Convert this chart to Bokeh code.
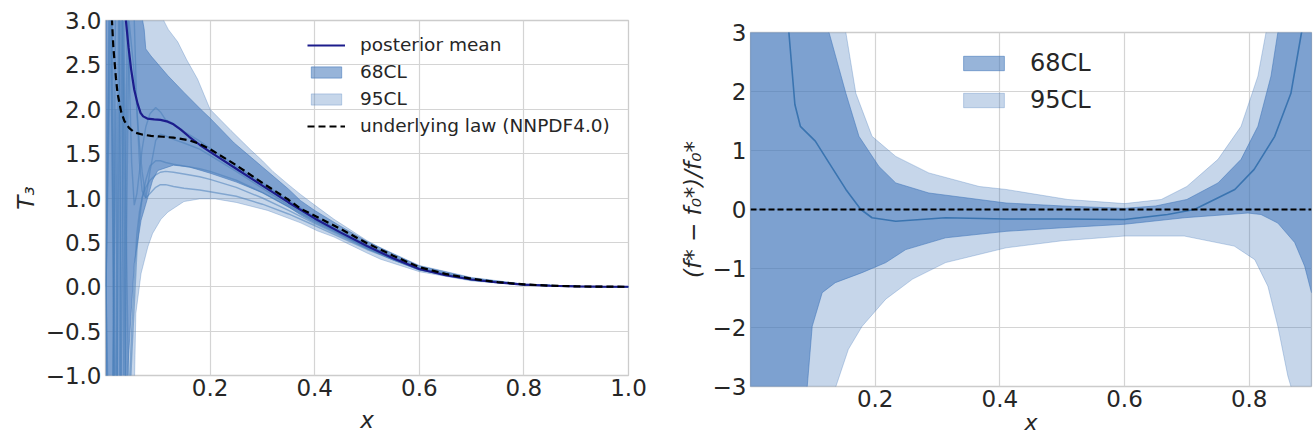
from bokeh.plotting import figure
from bokeh.layouts import row, column
from bokeh.models import Range1d, FixedTicker, Legend, LegendItem
from bokeh.embed import file_html
from bokeh.resources import INLINE

# ---------------- Left panel data: T3(x) ----------------
x_law = [0.005, 0.0124, 0.015, 0.02, 0.023, 0.03, 0.036, 0.045, 0.055, 0.07, 0.087, 0.11, 0.13,
         0.16, 0.18, 0.2, 0.25, 0.3, 0.35, 0.373, 0.4, 0.45, 0.5, 0.55, 0.6, 0.65, 0.7, 0.75,
         0.8, 0.85, 0.9, 0.95, 1.0]
law = [6.0, 3.0, 2.7, 2.35, 2.18, 1.97, 1.87, 1.79, 1.74, 1.715, 1.70, 1.69, 1.68,
       1.65, 1.61, 1.55, 1.37, 1.17, 0.98, 0.88, 0.80, 0.65, 0.49, 0.35, 0.22, 0.145, 0.09, 0.052,
       0.027, 0.012, 0.004, 0.001, 0.0]

x_mean = [0.035, 0.039, 0.044, 0.049, 0.055, 0.0615, 0.067, 0.072, 0.08, 0.093, 0.105, 0.119, 0.13,
          0.144, 0.16, 0.18, 0.2, 0.25, 0.3, 0.35, 0.4, 0.45, 0.5, 0.55, 0.6, 0.65, 0.7, 0.75,
          0.8, 0.85, 0.9, 0.95, 1.0]
post_mean = [3.6, 3.0, 2.7, 2.45, 2.22, 2.06, 1.96, 1.92, 1.895, 1.885, 1.88, 1.86, 1.83,
             1.77, 1.69, 1.60, 1.52, 1.33, 1.14, 0.95, 0.77, 0.61, 0.46, 0.32, 0.20, 0.13, 0.082, 0.048,
             0.025, 0.011, 0.004, 0.001, 0.0]

x_up95 = [0.001, 0.09, 0.106, 0.12, 0.138, 0.155, 0.176, 0.2, 0.24, 0.278, 0.3, 0.32, 0.35, 0.373,
          0.4, 0.437, 0.5, 0.526, 0.6, 0.7, 0.8, 0.9, 1.0]
up95 = [30.0, 3.5, 3.06, 2.9, 2.76, 2.56, 2.34, 2.0, 1.76, 1.54, 1.42, 1.30, 1.15, 1.04,
        0.92, 0.76, 0.52, 0.44, 0.24, 0.105, 0.03, 0.006, 0.0]

x_lo95 = [0.001, 0.055, 0.058, 0.068, 0.081, 0.09, 0.106, 0.119, 0.15, 0.18, 0.21, 0.25, 0.31,
          0.373, 0.405, 0.437, 0.5, 0.526, 0.6, 0.7, 0.8, 0.9, 1.0]
lo95 = [-30.0, -1.2, -0.3, 0.15, 0.45, 0.6, 0.76, 0.84, 0.96, 0.99, 0.99, 0.95, 0.86,
        0.72, 0.63, 0.56, 0.38, 0.31, 0.17, 0.065, 0.017, 0.002, 0.0]

x_up68 = [0.001, 0.068, 0.074, 0.077, 0.087, 0.119, 0.15, 0.182, 0.2, 0.246, 0.28, 0.3, 0.33,
          0.35, 0.373, 0.4, 0.45, 0.5, 0.55, 0.6, 0.7, 0.8, 0.9, 1.0]
up68 = [30.0, 3.1, 2.9, 2.68, 2.6, 2.38, 2.19, 2.0, 1.9, 1.62, 1.45, 1.35, 1.2,
        1.10, 0.97, 0.86, 0.68, 0.51, 0.37, 0.235, 0.10, 0.028, 0.005, 0.0]

x_lo68 = [0.001, 0.042, 0.049, 0.055, 0.068, 0.081, 0.09, 0.1, 0.13, 0.16, 0.2, 0.25, 0.3, 0.35,
          0.373, 0.4, 0.45, 0.5, 0.55, 0.6, 0.7, 0.8, 0.9, 1.0]
lo68 = [-30.0, -1.0, -0.3, 0.26, 0.75, 1.01, 1.2, 1.31, 1.37, 1.35, 1.28, 1.18, 1.06, 0.90,
        0.81, 0.72, 0.58, 0.43, 0.30, 0.19, 0.075, 0.02, 0.003, 0.0]

x_rep = [0.001, 0.01, 0.02, 0.025, 0.03, 0.035, 0.04, 0.045, 0.05, 0.055, 0.06, 0.065, 0.07, 0.077,
         0.085, 0.096, 0.105, 0.115, 0.13, 0.15, 0.18, 0.2, 0.25, 0.3, 0.35, 0.4, 0.5, 0.6, 0.7,
         0.8, 0.9, 1.0]
rep1 = [0.0, 4.0, -4.0, -3.0, 2.0, 5.0, 4.0, 2.5, 1.4, 0.92, 1.05, 1.3, 1.55, 1.8,
        1.95, 2.02, 1.97, 1.88, 1.84, 1.75, 1.64, 1.56, 1.36, 1.17, 0.97, 0.79, 0.47, 0.21, 0.085,
        0.025, 0.004, 0.0]
rep2 = [0.0, -5.0, 4.0, 5.0, -2.0, -3.0, 0.5, 3.0, 2.7, 2.4, 2.0, 1.6, 1.3, 1.0,
        1.3, 1.65, 1.72, 1.70, 1.66, 1.62, 1.55, 1.48, 1.30, 1.11, 0.92, 0.75, 0.44, 0.20, 0.08,
        0.024, 0.004, 0.0]
rep3 = [0.0, 3.0, -3.0, 1.0, 4.0, 2.0, -2.0, -1.2, -0.5, 0.1, 0.6, 0.85, 1.0, 1.2,
        1.36, 1.42, 1.42, 1.40, 1.38, 1.36, 1.33, 1.30, 1.20, 1.06, 0.90, 0.74, 0.44, 0.20, 0.08,
        0.024, 0.004, 0.0]
rep4 = [0.0, -3.0, 2.0, -4.0, -1.0, 3.0, 0.5, -1.5, -0.8, -0.2, 0.4, 0.75, 1.0, 1.12,
        1.2, 1.26, 1.29, 1.30, 1.29, 1.27, 1.24, 1.21, 1.12, 1.0, 0.86, 0.71, 0.43, 0.19, 0.078,
        0.023, 0.004, 0.0]
rep5 = [0.0, 5.0, -2.0, 3.0, 5.0, -1.0, 2.0, 5.0, 4.0, 3.0, 2.0, 1.4, 1.08, 1.0,
        1.05, 1.12, 1.15, 1.15, 1.13, 1.11, 1.09, 1.07, 1.02, 0.93, 0.82, 0.69, 0.42, 0.19, 0.075,
        0.022, 0.004, 0.0]
replicas = [rep1, rep2, rep3, rep4, rep5]

# ---------------- Right panel data: (f* - f0*)/f0* ----------------
xr_mean = [0.04, 0.0616, 0.0712, 0.080, 0.104, 0.126, 0.153, 0.177, 0.195, 0.233, 0.313, 0.41,
           0.5, 0.6, 0.669, 0.712, 0.777, 0.808, 0.841, 0.867, 0.884, 0.9]
ratio_mean = [8.0, 3.0, 1.78, 1.41, 1.16, 0.79, 0.34, 0.0, -0.14, -0.20, -0.14, -0.16,
              -0.16, -0.17, -0.085, 0.0, 0.34, 0.68, 1.24, 1.97, 3.0, 4.0]

xr_up68 = [0.0, 0.1, 0.126, 0.153, 0.174, 0.206, 0.233, 0.286, 0.41, 0.5, 0.6, 0.65, 0.70, 0.75,
           0.787, 0.814, 0.835, 0.846, 0.87, 0.9]
r_up68 = [40.0, 6.0, 3.0, 1.97, 1.24, 0.73, 0.45, 0.28, 0.11, 0.06, 0.02, 0.06, 0.17, 0.45,
          0.85, 1.41, 2.26, 3.0, 5.0, 8.0]

xr_lo68 = [0.0, 0.07, 0.091, 0.099, 0.115, 0.136, 0.179, 0.217, 0.249, 0.313, 0.41, 0.5, 0.6,
           0.696, 0.798, 0.819, 0.846, 0.873, 0.889, 0.9]
r_lo68 = [-40.0, -6.0, -3.0, -1.98, -1.41, -1.24, -1.07, -0.90, -0.68, -0.48, -0.37, -0.31, -0.25,
          -0.14, -0.06, -0.085, -0.23, -0.56, -0.96, -1.41]

xr_up95 = [0.0, 0.12, 0.153, 0.169, 0.195, 0.233, 0.286, 0.367, 0.41, 0.509, 0.6, 0.659, 0.70,
           0.75, 0.787, 0.814, 0.827, 0.85, 0.9]
r_up95 = [40.0, 8.0, 3.0, 1.97, 1.24, 0.90, 0.62, 0.39, 0.34, 0.17, 0.10, 0.17, 0.39,
          0.85, 1.41, 2.26, 3.0, 5.0, 10.0]

xr_lo95 = [0.0, 0.11, 0.137, 0.157, 0.179, 0.217, 0.26, 0.313, 0.41, 0.5, 0.6, 0.696, 0.776,
           0.809, 0.83, 0.846, 0.862, 0.867, 0.9]
r_lo95 = [-40.0, -8.0, -3.0, -2.37, -1.98, -1.52, -1.18, -0.90, -0.65, -0.53, -0.45, -0.45, -0.62,
          -0.85, -1.30, -1.98, -2.82, -3.0, -10.0]

xr_zero = [0.0, 0.9]
r_zero = [0.0, 0.0]

# ---------------- Ticks ----------------
left_xticks = [0.2, 0.4, 0.6, 0.8, 1.0]
left_xlabels = ["0.2", "0.4", "0.6", "0.8", "1.0"]
left_yticks = [-1.0, -0.5, 0.0, 0.5, 1.0, 1.5, 2.0, 2.5, 3.0]
left_ylabels = ["\u22121.0", "\u22120.5", "0.0", "0.5", "1.0", "1.5", "2.0", "2.5", "3.0"]
right_xticks = [0.2, 0.4, 0.6, 0.8]
right_xlabels = ["0.2", "0.4", "0.6", "0.8"]
right_yticks = [-3, -2, -1, 0, 1, 2, 3]
right_ylabels = ["\u22123", "\u22122", "\u22121", "0", "1", "2", "3"]

FONT = "DejaVu Sans"
TXT = "#262626"
GRID = "#d4d4d4"
FRAME = "#cccccc"
BAND = "#4176b9"
NAVY = "#1c1c8c"
REPC = "#4a7fba"
RMEAN = "#3a74b0"


def band_xy(xu, yu, xl, yl):
    return list(xu) + list(reversed(xl)), list(yu) + list(reversed(yl))


def style(p, xt, xl, yt, yl, fs, xlabel, ylabel):
    p.xaxis.ticker = FixedTicker(ticks=xt)
    p.yaxis.ticker = FixedTicker(ticks=yt)
    p.xaxis.major_label_overrides = {t: s for t, s in zip(xt, xl)}
    p.yaxis.major_label_overrides = {t: s for t, s in zip(yt, yl)}
    for ax in (p.xaxis[0], p.yaxis[0]):
        ax.axis_line_color = None
        ax.major_tick_line_color = None
        ax.minor_tick_line_color = None
        ax.major_tick_out = 0
        ax.major_tick_in = 0
        ax.minor_tick_out = 0
        ax.major_label_text_font = FONT
        ax.major_label_text_font_size = fs
        ax.major_label_text_color = TXT
        ax.axis_label_text_font = FONT
        ax.axis_label_text_font_size = fs
        ax.axis_label_text_color = TXT
        ax.axis_label_text_font_style = "italic"
        ax.major_label_standoff = 4
        ax.axis_label_standoff = 4
    p.xaxis.axis_label = xlabel
    p.yaxis.axis_label = ylabel
    p.xaxis.major_label_standoff = 3
    p.xaxis.axis_label_standoff = 0
    p.grid.grid_line_color = GRID
    p.grid.grid_line_width = 1.2
    p.outline_line_color = FRAME
    p.outline_line_width = 1.3
    p.background_fill_color = "white"
    p.border_fill_color = "white"


# ---------------- Left figure ----------------
p1 = figure(width=650, height=442, x_range=Range1d(0.0, 1.0), y_range=Range1d(-1.0, 3.0),
            output_backend="svg", toolbar_location=None,
            min_border_left=105, min_border_right=22, min_border_top=20, min_border_bottom=67)
style(p1, left_xticks, left_xlabels, left_yticks, left_ylabels, "23px", "x", "T\u2083")
p1.xaxis.axis_label_standoff = 8

bx, by = band_xy(x_up95, up95, x_lo95, lo95)
r95 = p1.patch(bx, by, fill_color=BAND, fill_alpha=0.3, line_color=BAND, line_alpha=0.3, line_width=1)
bx, by = band_xy(x_up68, up68, x_lo68, lo68)
r68 = p1.patch(bx, by, fill_color=BAND, fill_alpha=0.55, line_color=BAND, line_alpha=0.55, line_width=1)
for rep in replicas:
    p1.line(x_rep, rep, line_color=REPC, line_alpha=0.55, line_width=1.4)
rmean = p1.line(x_mean, post_mean, line_color=NAVY, line_width=2.2)
rlaw = p1.line(x_law, law, line_color="black", line_width=2.2, line_dash="7 4")

leg1 = Legend(items=[LegendItem(label="posterior mean", renderers=[rmean]),
                     LegendItem(label="68CL", renderers=[r68]),
                     LegendItem(label="95CL", renderers=[r95]),
                     LegendItem(label="underlying law (NNPDF4.0)", renderers=[rlaw])],
              location=(202, 239), orientation="vertical")
leg1.label_text_font = FONT
leg1.label_text_font_size = "18.5px"
leg1.label_text_color = TXT
leg1.glyph_width = 38
leg1.glyph_height = 14
leg1.label_standoff = 15
leg1.label_height = 20
leg1.spacing = 6
leg1.padding = 0
leg1.margin = 0
leg1.background_fill_alpha = 0
leg1.border_line_alpha = 0
p1.add_layout(leg1, "center")

# ---------------- Right figure ----------------
p2 = figure(width=663, height=442, x_range=Range1d(0.0, 0.9), y_range=Range1d(-3.0, 3.0),
            output_backend="svg", toolbar_location=None,
            min_border_left=100, min_border_right=2, min_border_top=32, min_border_bottom=56)
style(p2, right_xticks, right_xlabels, right_yticks, right_ylabels, "23px", "x",
      "(f* \u2212 f\u2080*)/f\u2080*")
p2.xaxis.axis_label_text_font_size = "22px"

bx, by = band_xy(xr_up95, r_up95, xr_lo95, r_lo95)
q95 = p2.patch(bx, by, fill_color=BAND, fill_alpha=0.3, line_color=BAND, line_alpha=0.3, line_width=1)
bx, by = band_xy(xr_up68, r_up68, xr_lo68, r_lo68)
q68 = p2.patch(bx, by, fill_color=BAND, fill_alpha=0.55, line_color=BAND, line_alpha=0.55, line_width=1)
p2.line(xr_mean, ratio_mean, line_color=RMEAN, line_width=1.6)
p2.line(xr_zero, r_zero, line_color="black", line_width=1.8, line_dash="6 3")

leg2 = Legend(items=[LegendItem(label="68CL", renderers=[q68]),
                     LegendItem(label="95CL", renderers=[q95])],
              location=(208, 272), orientation="vertical")
leg2.label_text_font = FONT
leg2.label_text_font_size = "24px"
leg2.label_text_color = TXT
leg2.glyph_width = 51
leg2.glyph_height = 18
leg2.label_standoff = 21
leg2.label_height = 28
leg2.spacing = 9
leg2.padding = 0
leg2.margin = 0
leg2.background_fill_alpha = 0
leg2.border_line_alpha = 0
p2.add_layout(leg2, "center")

# each figure in its own column so that the two frames are laid out independently
layout = row(column(p1), column(p2))
open("out.html", "w").write(file_html(layout, INLINE))
